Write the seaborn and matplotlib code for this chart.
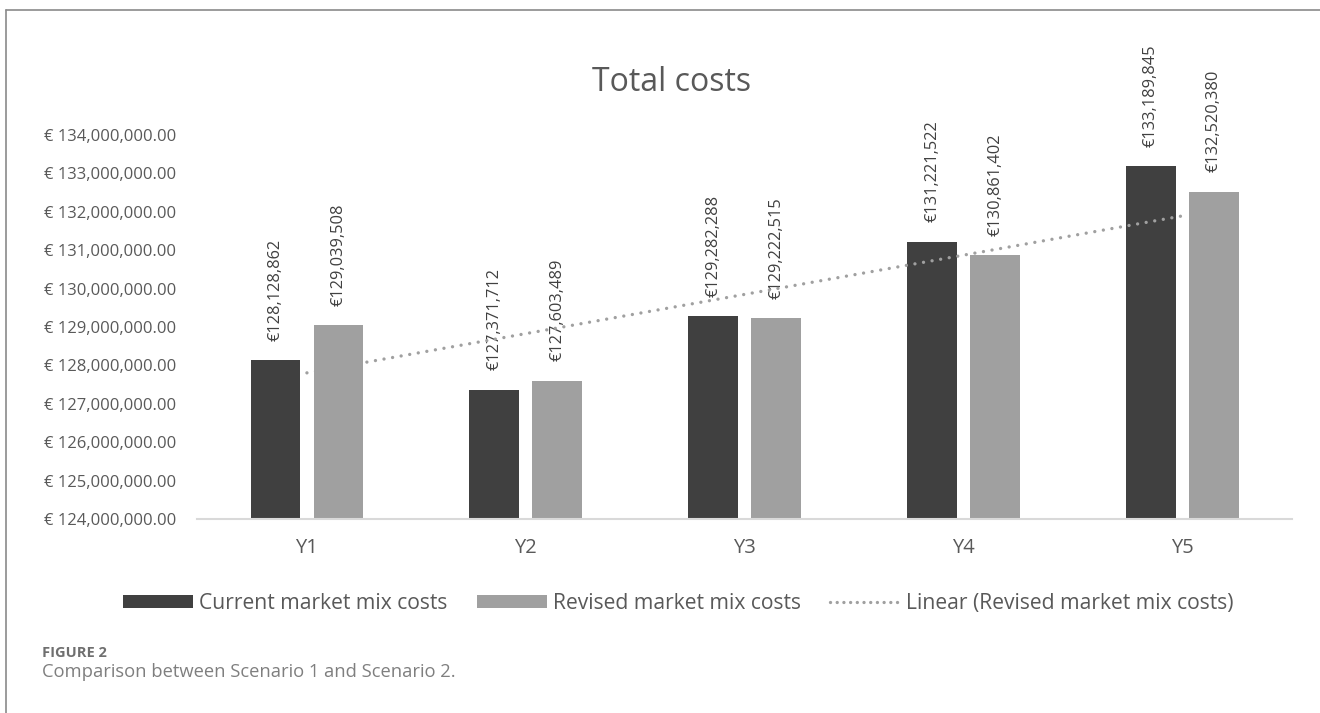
import numpy as np
import pandas as pd
import matplotlib
matplotlib.use("Agg")
import matplotlib.pyplot as plt
from matplotlib.lines import Line2D
from matplotlib.patches import Patch
import seaborn as sns

# ---- data -------------------------------------------------------------
years = ["Y1", "Y2", "Y3", "Y4", "Y5"]
current_costs = [128128862, 127371712, 129282288, 131221522, 133189845]
revised_costs = [129039508, 127603489, 129222515, 130861402, 132520380]
series_names = ["Current market mix costs", "Revised market mix costs"]
trend_name = "Linear (Revised market mix costs)"
y_ticks = [124e6 + i * 1e6 for i in range(11)]

# ---- style ------------------------------------------------------------
sns.set_theme(style="white")
plt.rcParams["font.family"] = ["Open Sans", "DejaVu Sans"]
TEXT = "#595959"
DARK = "#404040"
LIGHT = "#a0a0a0"

df = pd.DataFrame({
    "year": years * 2,
    "cost": current_costs + revised_costs,
    "series": [series_names[0]] * len(years) + [series_names[1]] * len(years),
})

fig = plt.figure(figsize=(13.2, 7.13), dpi=100)
ax = fig.add_axes([0.1496, 0.2721, 0.8292, 0.5386])

sns.barplot(data=df, x="year", y="cost", hue="series",
            palette=[DARK, LIGHT], width=0.576, gap=0.21,
            linewidth=0, ax=ax, legend=False)

# value labels above each bar
for container in ax.containers:
    for bar in container:
        h = bar.get_height()
        ax.annotate(f"€{h:,.0f}",
                    xy=(bar.get_x() + bar.get_width() / 2, h),
                    xytext=(0, 14), textcoords="offset points",
                    rotation=90, ha="center", va="bottom",
                    fontsize=11.8, color=DARK, clip_on=False)

# linear trend of the revised series
xs = np.arange(len(years))
slope, intercept = np.polyfit(xs + 1, np.array(revised_costs, dtype=float), 1)
trend = slope * (xs + 1) + intercept
ax.plot(xs, trend, color=LIGHT, lw=2.4, linestyle=(0, (0.01, 2.6)),
        dash_capstyle="round", zorder=5)

# axes
ax.set_ylim(124e6, 134e6)
ax.set_xlim(-0.5, len(years) - 0.5)
ax.set_yticks(y_ticks)
ax.set_yticklabels([f"€ {v:,.2f}" for v in y_ticks])
ax.set_xlabel("")
ax.set_ylabel("")
for side in ["top", "right", "left"]:
    ax.spines[side].set_visible(False)
ax.spines["bottom"].set_color("#d9d9d9")
ax.spines["bottom"].set_linewidth(1.5)
ax.tick_params(axis="y", length=0, pad=15.5, labelsize=12, labelcolor=TEXT)
ax.tick_params(axis="x", length=0, pad=14, labelsize=14.5, labelcolor=TEXT)

fig.text(0.509, 0.884, "Total costs", ha="center", va="center",
         fontsize=23, color=TEXT)

# legend
handles = [
    Patch(facecolor=DARK, edgecolor="none"),
    Patch(facecolor=LIGHT, edgecolor="none"),
    Line2D([0], [0], color=LIGHT, lw=2.4, linestyle=(0, (0.01, 2.0)),
           dash_capstyle="round"),
]
fig.legend(handles, series_names + [trend_name], loc="center",
           bbox_to_anchor=(0.514, 0.154), ncol=3, frameon=False,
           fontsize=15.2, labelcolor=TEXT, handlelength=3.3, handleheight=0.6,
           handletextpad=0.3, columnspacing=1.4)

# caption
fig.text(0.032, 0.084, "FIGURE 2", fontsize=10.5, fontweight="bold",
         color="#6f6f6f", va="center", ha="left")
fig.text(0.032, 0.057, "Comparison between Scenario 1 and Scenario 2.",
         fontsize=13.2, color="#7f7f7f", va="center", ha="left")

# frame around the figure
fig.add_artist(Line2D([6.5 / 1320, 6.5 / 1320], [0, 1 - 10 / 713],
                      transform=fig.transFigure, color="#8a8a8a", lw=1.2))
fig.add_artist(Line2D([6.5 / 1320, 1], [1 - 10 / 713, 1 - 10 / 713],
                      transform=fig.transFigure, color="#8a8a8a", lw=1.2))

fig.savefig("out.png", dpi=100)
